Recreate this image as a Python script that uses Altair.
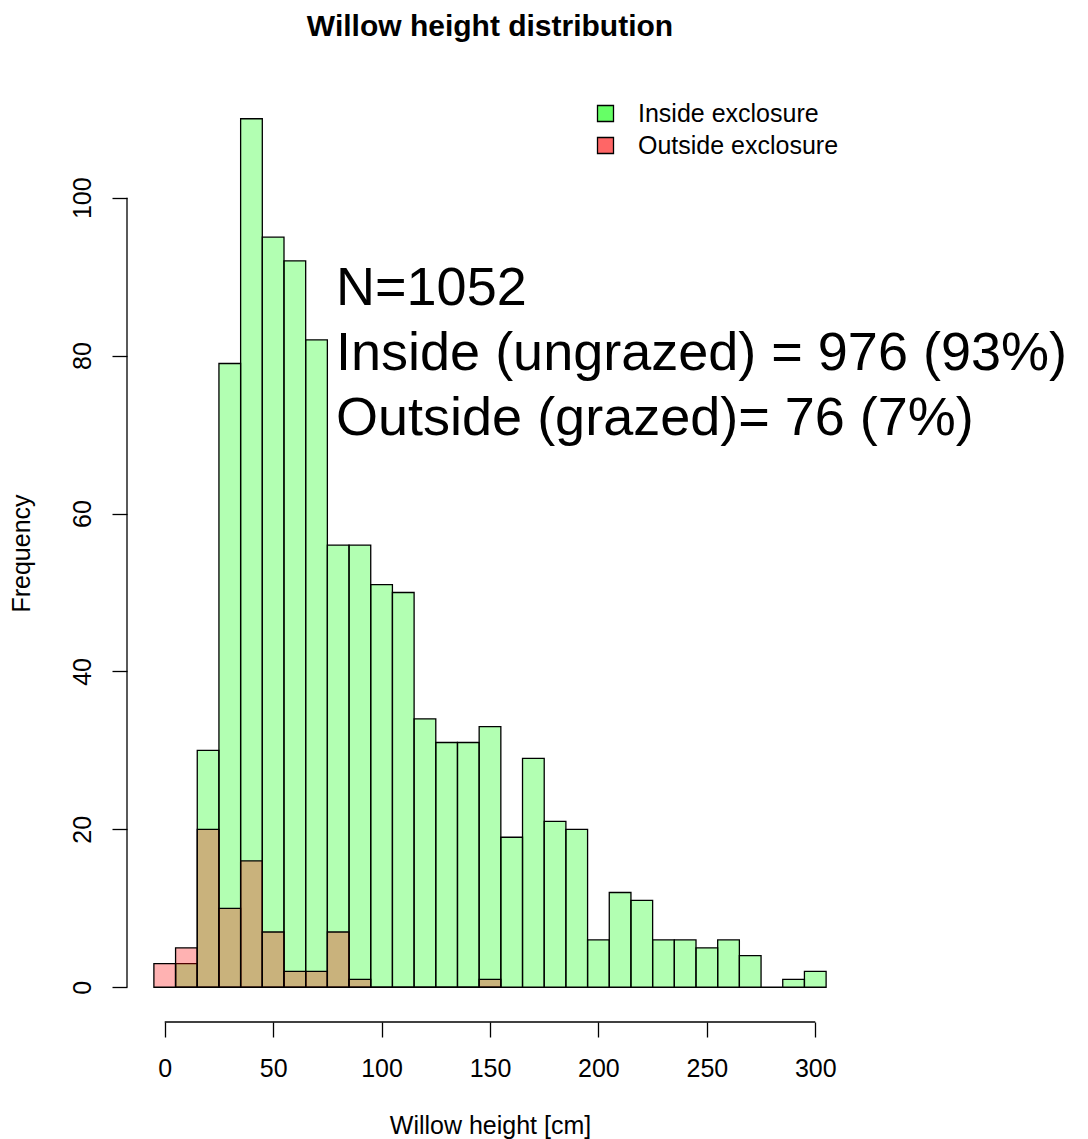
import altair as alt
import pandas as pd

# ---- data ----
bin_width = 10
green_first_edge = 5
green_counts = [3, 30, 79, 110, 95, 92, 82, 56, 56, 51, 50, 34, 31, 31, 33,
                19, 29, 21, 20, 6, 12, 11, 6, 6, 5, 6, 4, 0, 1, 2]
red_first_edge = -5
red_counts = [3, 5, 20, 10, 16, 7, 2, 2, 7, 1, 0, 0, 0, 0, 0, 1]
series = ["Inside exclosure", "Outside exclosure"]
x_ticks = [0, 50, 100, 150, 200, 250, 300]
y_ticks = [0, 20, 40, 60, 80, 100]
annotation_lines = ["N=1052", "Inside (ungrazed) = 976 (93%)", "Outside (grazed)= 76 (7%)"]

FONT = "Liberation Sans"
W, H = 726, 938


def bins(first, counts):
    return pd.DataFrame({
        "x0": [first + i * bin_width for i in range(len(counts))],
        "x1": [first + (i + 1) * bin_width for i in range(len(counts))],
        "count": counts,
        "base": [0] * len(counts),
    })


green_df = bins(green_first_edge, green_counts)
red_df = bins(red_first_edge, red_counts)

xs = alt.Scale(domain=[-17.4, 317.4], nice=False, zero=False)
ys = alt.Scale(domain=[-4.4, 114.4], nice=False, zero=False)

x_axis = alt.Axis(values=x_ticks, title="Willow height [cm]", labelPadding=19,
                  titlePadding=32)
y_axis = alt.Axis(values=y_ticks, title="Frequency", labelAngle=270,
                  labelPadding=17, titlePadding=36)


def X(field="x0"):
    return alt.X(f"{field}:Q", scale=xs, axis=x_axis)


def Y(field="count"):
    return alt.Y(f"{field}:Q", scale=ys, axis=y_axis)


bar_style = dict(stroke="black", strokeWidth=1.3, fillOpacity=0.3)

green = alt.Chart(green_df).mark_bar(fill="#00ff00", **bar_style).encode(
    x=X(), x2="x1:Q", y=Y(), y2="base:Q")
red = alt.Chart(red_df).mark_bar(fill="#ff0000", **bar_style).encode(
    x=X(), x2="x1:Q", y=Y(), y2="base:Q")

# axis lines spanning first to last tick (R style)
xline = alt.Chart(pd.DataFrame({"x0": [x_ticks[0]], "x1": [x_ticks[-1]]})).mark_rule(
    color="black", strokeWidth=1.3).encode(x=X(), x2="x1:Q", y=alt.value(H))
yline = alt.Chart(pd.DataFrame({"count": [y_ticks[0]], "top": [y_ticks[-1]]})).mark_rule(
    color="black", strokeWidth=1.3).encode(y=Y(), y2="top:Q", x=alt.value(0))

# legend
legend_layer = alt.Chart(pd.DataFrame({"series": pd.Series([], dtype=str)})).mark_square(
    stroke="black", strokeWidth=1.3, opacity=1).encode(
    color=alt.Color("series:N",
                    scale=alt.Scale(domain=series, range=["#66ff66", "#ff6666"]),
                    legend=alt.Legend(orient="none", legendX=466, legendY=17, title=None,
                                      symbolType="square", symbolSize=256,
                                      symbolOpacity=1,
                                      symbolStrokeColor="black", symbolStrokeWidth=1.3,
                                      labelFont=FONT, labelFontSize=25, labelColor="black",
                                      labelLimit=0,
                                      labelOffset=20, rowPadding=6, padding=0))
)

# annotation
ann_df = pd.DataFrame({"x0": [79], "count": [86.4], "label": ["\n".join(annotation_lines)]})
annotation = alt.Chart(ann_df).mark_text(
    align="left", baseline="alphabetic", font=FONT, fontSize=54, lineHeight=65,
    lineBreak="\n", color="black").encode(x=X(), y=Y(), text="label:N")

chart = alt.layer(green, red, xline, yline, legend_layer, annotation).properties(
    width=W, height=H,
    title=alt.TitleParams("Willow height distribution", font=FONT, fontSize=30,
                          fontWeight="bold", anchor="middle", frame="group",
                          offset=42, color="black"),
    autosize=alt.AutoSizeParams(type="none"),
    padding={"left": 119, "top": 76, "right": 227, "bottom": 117},
).configure_view(stroke=None).configure_axis(
    domain=False, grid=False, tickSize=15, tickColor="black", tickWidth=1.3,
    labelFont=FONT, labelFontSize=25, labelColor="black",
    titleFont=FONT, titleFontSize=25, titleFontWeight="normal", titleColor="black",
)

chart.save("out.html", embed_options={"renderer": "svg", "actions": False})
